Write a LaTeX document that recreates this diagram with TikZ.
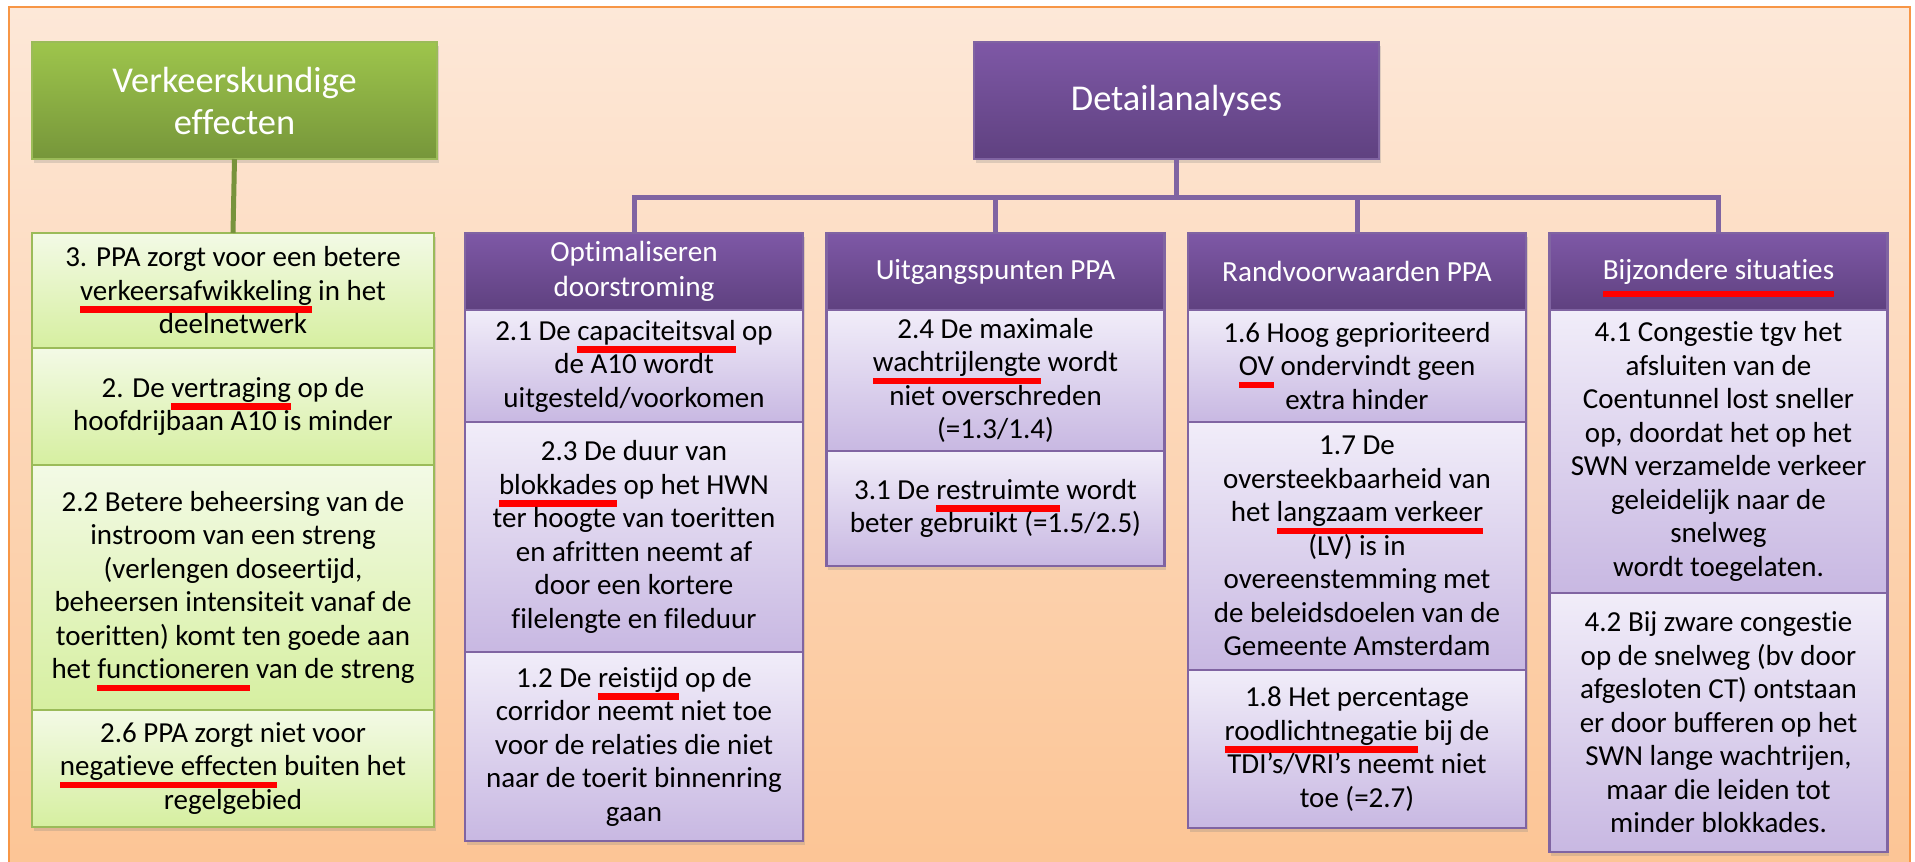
\documentclass[tikz,border=0pt]{standalone}
\usepackage{fontspec}
\setmainfont[Ligatures=NoCommon]{Carlito}
\usepackage{xcolor}
\usetikzlibrary{positioning,shadows}

\definecolor{panelTop}{RGB}{253,232,216}
\definecolor{panelBot}{RGB}{252,196,148}
\definecolor{panelLine}{RGB}{247,150,70}
\definecolor{greenTop}{RGB}{158,197,76}
\definecolor{greenBot}{RGB}{118,150,58}
\definecolor{greenLine}{RGB}{155,187,89}
\definecolor{greenDark}{RGB}{119,147,60}
\definecolor{limeTop}{RGB}{243,250,230}
\definecolor{limeBot}{RGB}{214,239,160}
\definecolor{violetTop}{RGB}{126,88,166}
\definecolor{violetBot}{RGB}{95,65,128}
\definecolor{violetLine}{RGB}{128,100,162}
\definecolor{lilacTop}{RGB}{241,237,249}
\definecolor{lilacBot}{RGB}{200,184,226}
\definecolor{ulred}{RGB}{255,0,0}

\newsavebox\ulwordbox
\newcommand\redul[2][-12.5pt]{\sbox\ulwordbox{#2}\rlap{\smash{\textcolor{ulred}{\rule[#1]{\wd\ulwordbox}{6.5pt}}}}\usebox\ulwordbox}

\begin{document}
\begin{tikzpicture}[x=1pt, y=-1pt,
    every node/.style = {shape=rectangle, align=center, outer sep=0pt,
      inner sep=2pt, line width=2.5pt},
    softshadow/.style = {drop shadow={opacity=0.25, shadow xshift=1.5pt, shadow yshift=-4pt}},
    bighead/.style = {softshadow, text=white, minimum width=405, minimum height=117,
      font=\fontsize{36.4}{42}\selectfont},
    greenhead/.style = {bighead, draw=greenLine, top color=greenTop, bottom color=greenBot},
    violethead/.style = {bighead, draw=violetLine, top color=violetTop, bottom color=violetBot},
    colhead/.style = {softshadow, text=white, minimum width=338, minimum height=77,
      draw=violetLine, top color=violetTop, bottom color=violetBot,
      font=\fontsize{29.2}{35}\selectfont},
    bodybox/.style = {softshadow, font=\fontsize{29}{33.5}\selectfont},
    greenbox/.style = {bodybox, minimum width=402, draw=greenLine,
      top color=limeTop, bottom color=limeBot},
    lilacbox/.style = {bodybox, minimum width=338, draw=violetLine,
      top color=lilacTop, bottom color=lilacBot},
    greenlink/.style = {draw=greenDark, line width=5pt},
    violetlink/.style = {draw=violetLine, line width=5pt}]

  \useasboundingbox (0,0) rectangle (1915,862);
  \fill[white] (0,0) rectangle (1915,862);
  \shade[top color=panelTop, bottom color=panelBot] (9,7) rectangle (1910,880);
  \draw[panelLine, line width=2.5pt] (9,7) rectangle (1910,880);

  \node[greenhead, anchor=north west] (vkhead) at (32,42) {Verkeerskundige\\effecten};
  \node[greenbox, anchor=north west, minimum height=115] (g1) at (32,233)
    {3. PPA zorgt voor een betere\\\redul{verkeersafwikkeling} in het\\deelnetwerk};
  \node[greenbox, below=0pt of g1, minimum height=117] (g2)
    {2. De \redul{vertraging} op de\\hoofdrijbaan A10 is minder};
  \node[greenbox, below=0pt of g2, minimum height=245] (g3)
    {2.2 Betere beheersing van de\\instroom van een streng\\(verlengen doseertijd,\\beheersen intensiteit vanaf de\\toeritten) komt ten goede aan\\het \redul{functioneren} van de streng};
  \node[greenbox, below=0pt of g3, minimum height=117] (g4)
    {2.6 PPA zorgt niet voor\\\redul{negatieve effecten} buiten het\\regelgebied};

  \node[violethead, anchor=north west] (detail) at (974,42) {Detailanalyses};

  \node[colhead, anchor=north west] (hopt) at (465,233) {Optimaliseren\\doorstroming};
  \node[colhead, right=23.5pt of hopt] (hupt) {Uitgangspunten PPA};
  \node[colhead, right=23.5pt of hupt] (hrand) {Randvoorwaarden PPA};
  \node[colhead, right=23.5pt of hrand] (hbij) {\redul[-18pt]{Bijzondere situaties}};

  \node[lilacbox, below=0pt of hopt, minimum height=112] (o1)
    {2.1 De \redul{capaciteitsval} op\\de A10 wordt\\uitgesteld/voorkomen};
  \node[lilacbox, below=0pt of o1, minimum height=230] (o2)
    {2.3 De duur van\\\redul{blokkades} op het HWN\\ter hoogte van toeritten\\en afritten neemt af\\door een kortere\\filelengte en fileduur};
  \node[lilacbox, below=0pt of o2, minimum height=189] (o3)
    {1.2 De \redul{reistijd} op de\\corridor neemt niet toe\\voor de relaties die niet\\naar de toerit binnenring\\gaan};

  \node[lilacbox, below=0pt of hupt, minimum height=141] (u1)
    {2.4 De maximale\\\redul{wachtrijlengte} wordt\\niet overschreden\\(=1.3/1.4)};
  \node[lilacbox, below=0pt of u1, minimum height=115] (u2)
    {3.1 De \redul{restruimte} wordt\\beter gebruikt (=1.5/2.5)};

  \node[lilacbox, below=0pt of hrand, minimum height=112] (r1)
    {1.6 Hoog geprioriteerd\\\redul{OV} ondervindt geen\\extra hinder};
  \node[lilacbox, below=0pt of r1, minimum height=248] (r2)
    {1.7 De\\oversteekbaarheid van\\het \redul{langzaam verkeer}\\(LV) is in\\overeenstemming met\\de beleidsdoelen van de\\Gemeente Amsterdam};
  \node[lilacbox, below=0pt of r2, minimum height=158] (r3)
    {1.8 Het percentage\\\redul{roodlichtnegatie} bij de\\TDI’s/VRI’s neemt niet\\toe (=2.7)};

  \node[lilacbox, below=0pt of hbij, minimum height=283] (b1)
    {4.1 Congestie tgv het\\afsluiten van de\\Coentunnel lost sneller\\op, doordat het op het\\SWN verzamelde verkeer\\geleidelijk naar de\\snelweg\\wordt toegelaten.};
  \node[lilacbox, below=0pt of b1, minimum height=259] (b2)
    {4.2 Bij zware congestie\\op de snelweg (bv door\\afgesloten CT) ontstaan\\er door bufferen op het\\SWN lange wachtrijen,\\maar die leiden tot\\minder blokkades.};

  \draw[greenlink] (vkhead.south) -- (g1.north);
  \draw[violetlink] (detail.south) -- ++(0,38) coordinate (fork);
  \draw[violetlink] (hopt.north) |- (fork) -| (hbij.north);
  \draw[violetlink] (hupt.north) -- (hupt.north |- fork);
  \draw[violetlink] (hrand.north) -- (hrand.north |- fork);
\end{tikzpicture}
\end{document}
